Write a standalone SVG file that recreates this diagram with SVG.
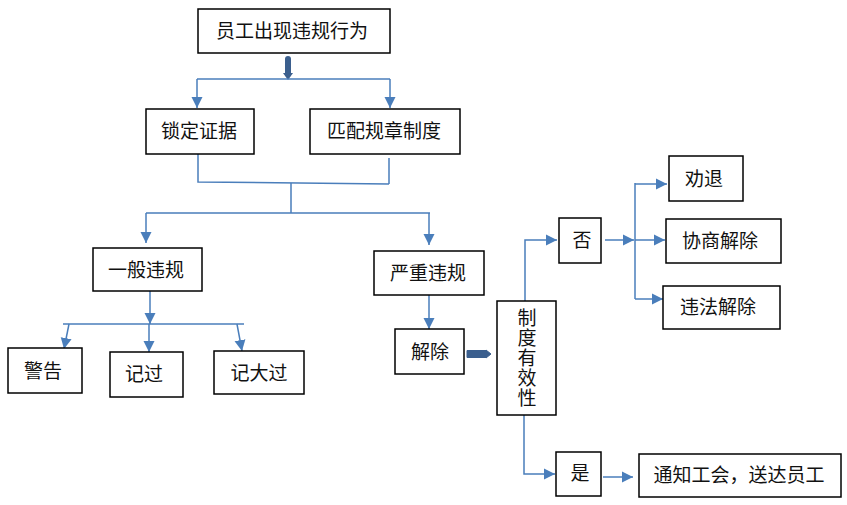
<svg xmlns="http://www.w3.org/2000/svg" width="847" height="505" viewBox="0 0 847 505">
<defs>
<style>
.box{fill:#fff;stroke:#000;stroke-width:1.5}
.t{font-family:"Liberation Serif","Noto Sans CJK SC",serif;font-size:19px;fill:#111;text-anchor:middle;dominant-baseline:central}
.ln{fill:none;stroke:#4A7EBB;stroke-width:1.5}
.ar{fill:none;stroke:#4A7EBB;stroke-width:1.5;marker-end:url(#ah)}
.thick{fill:none;stroke:#3B5F8E;stroke-width:6;stroke-linecap:round}
</style>
<marker id="ah" markerUnits="userSpaceOnUse" markerWidth="12" markerHeight="12" refX="11" refY="6" orient="auto">
<path d="M0,0.5 L11,6 L0,11.5 z" fill="#4A7EBB"/>
</marker>
</defs>
<rect width="847" height="505" fill="#fff"/>
<g id="connectors">
<path class="thick" d="M288,59 V74"/>
<path d="M283,73 L293,73 L288,80 z" fill="#3B5F8E"/>
<path class="ln" d="M197,79 H390"/>
<path class="ar" d="M197,79 V108"/>
<path class="ar" d="M390,79 V108"/>
<path class="ln" d="M198,154 V182 L389,184 M389,158 V184"/>
<path class="ln" d="M291,183 V213 M146,213 H430"/>
<path class="ar" d="M146,213 V243"/>
<path class="ar" d="M429,213 V245"/>
<path class="ar" d="M150,291 V324"/>
<path class="ln" d="M63,324 H244"/>
<path class="ar" d="M149,324 V352"/>
<path class="ar" d="M69,324 L64,349"/>
<path class="ar" d="M237,324 L242,351"/>
<path class="ar" d="M429,295 V329"/>
<path d="M467,350.5 H486 L486,350 L491,354 L486,358 L486,357.5 H467 z" fill="#3B5F8E" stroke="#3B5F8E" stroke-width="1" stroke-linejoin="round"/>
<path class="ar" d="M525,301 V240 H557"/>
<path class="ar" d="M605,240 H634"/>
<path class="ln" d="M635,183 V299"/>
<path class="ar" d="M635,184 H667"/>
<path class="ar" d="M635,240 H665"/>
<path class="ar" d="M635,299 H663"/>
<path class="ar" d="M524,415 V474 H555"/>
<path class="ar" d="M603,477 H633"/>
</g>
<g id="n1"><rect class="box" x="198" y="9" width="192" height="44"/><text class="t" x="292" y="31">员工出现违规行为</text></g>
<g id="n2"><rect class="box" x="146" y="109" width="108" height="45"/><text class="t" x="199" y="131">锁定证据</text></g>
<g id="n3"><rect class="box" x="310" y="109" width="150" height="45"/><text class="t" x="384" y="131">匹配规章制度</text></g>
<g id="n4"><rect class="box" x="93" y="248" width="109" height="43"/><text class="t" x="146" y="270">一般违规</text></g>
<g id="n5"><rect class="box" x="374" y="251" width="110" height="44"/><text class="t" x="428" y="273">严重违规</text></g>
<g id="n6"><rect class="box" x="8" y="348" width="74" height="45"/><text class="t" x="43" y="371">警告</text></g>
<g id="n7"><rect class="box" x="110" y="352" width="73" height="45"/><text class="t" x="144" y="374">记过</text></g>
<g id="n8"><rect class="box" x="214" y="351" width="90" height="43"/><text class="t" x="259" y="373">记大过</text></g>
<g id="n9"><rect class="box" x="395" y="329" width="69" height="45"/><text class="t" x="430" y="352">解除</text></g>
<g id="n10"><rect class="box" x="497" y="301" width="59" height="114"/>
<text class="t" x="527" y="318">制</text><text class="t" x="527" y="338">度</text><text class="t" x="527" y="358">有</text><text class="t" x="527" y="378">效</text><text class="t" x="527" y="398">性</text></g>
<g id="n11"><rect class="box" x="559" y="218" width="42" height="45"/><text class="t" x="582" y="240">否</text></g>
<g id="n12"><rect class="box" x="669" y="156" width="74" height="45"/><text class="t" x="704" y="179">劝退</text></g>
<g id="n13"><rect class="box" x="666" y="219" width="115" height="44"/><text class="t" x="720" y="241">协商解除</text></g>
<g id="n14"><rect class="box" x="663" y="286" width="117" height="43"/><text class="t" x="718" y="307">违法解除</text></g>
<g id="n15"><rect class="box" x="556" y="452" width="45" height="44"/><text class="t" x="580" y="473">是</text></g>
<g id="n16"><rect class="box" x="639" y="454" width="202" height="43"/><text class="t" x="739" y="475">通知工会，送达员工</text></g>
</svg>
